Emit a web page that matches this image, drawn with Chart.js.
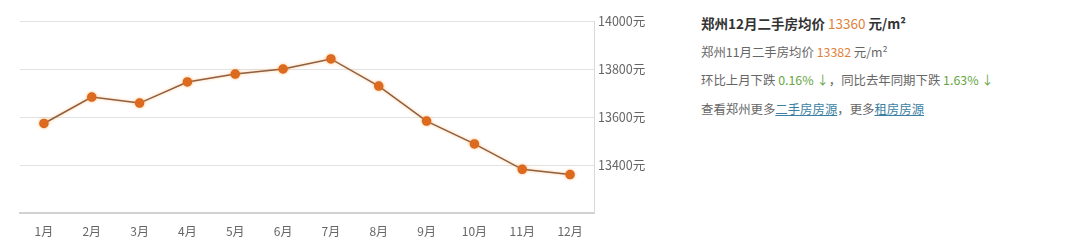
<!DOCTYPE html>
<html>
<head>
<meta charset="utf-8">
<script src="https://cdn.jsdelivr.net/npm/chart.js@4"></script>
<style>
    body { margin: 0; background: #fff; font-family: "Noto Sans CJK SC", sans-serif; }
    #wrap { position: relative; width: 1080px; height: 249px; }
    #chart-box { position: absolute; left: 0; top: 0; width: 660px; height: 249px; }
    #info { position: absolute; left: 701px; top: 12px; font-size: 12.4px; color: #666; }
    #info div { height: 28.7px; line-height: 22px; white-space: nowrap; }
    #info .title { font-size: 13.5px; font-weight: bold; color: #333; }
    .price { color: #e0813a; font-weight: normal; }
    .down { color: #66a53f; }
    a { color: #3b7fa3; text-decoration: underline; }
</style>
</head>
<body>
<div id="wrap">
    <div id="chart-box"><canvas id="price-chart"></canvas></div>
    <div id="info">
        <div class="title">郑州12月二手房均价 <span class="price">13360</span> 元/m²</div>
        <div>郑州11月二手房均价 <span class="price">13382</span> 元/m²</div>
        <div>环比上月下跌 <span class="down">0.16% ↓</span>，同比去年同期下跌 <span class="down">1.63% ↓</span></div>
        <div>查看郑州更多<a>二手房房源</a>，更多<a>租房房源</a></div>
    </div>
</div>
<script>
const months = ['1月', '2月', '3月', '4月', '5月', '6月', '7月', '8月', '9月', '10月', '11月', '12月'];
const avgPrices = [13573, 13683, 13658, 13746, 13779, 13800, 13842, 13729, 13583, 13488, 13382, 13360];
const yTicks = [13200, 13400, 13600, 13800, 14000];

// orange glow around the line
const glowPlugin = {
    id: 'glow',
    beforeDatasetsDraw(chart) {
        chart.ctx.save();
        chart.ctx.shadowColor = 'rgba(255, 150, 40, 0.55)';
        chart.ctx.shadowBlur = 3;
    },
    afterDatasetsDraw(chart) {
        chart.ctx.restore();
    }
};

const ctx = document.getElementById('price-chart').getContext('2d');
new Chart(ctx, {
    type: 'line',
    data: {
        labels: months,
        datasets: [{
            data: avgPrices,
            borderColor: '#8f5f42',
            borderWidth: 1.5,
            pointBackgroundColor: '#d9661f',
            pointBorderColor: '#d9661f',
            pointRadius: 4,
            tension: 0
        }]
    },
    options: {
        responsive: true,
        maintainAspectRatio: false,
        animation: false,
        layout: { padding: { left: 20, top: 21, right: 0, bottom: 0 } },
        plugins: {
            legend: { display: false },
            tooltip: { enabled: false }
        },
        scales: {
            x: {
                offset: true,
                grid: { display: false },
                border: { color: '#d2d2d2', width: 2 },
                ticks: { color: '#666', font: { size: 12, family: 'Noto Sans CJK SC' }, padding: 3 },
                afterFit(scale) { scale.height = 36; }
            },
            y: {
                position: 'right',
                min: 13200,
                max: 14000,
                afterBuildTicks(scale) { scale.ticks = yTicks.map(v => ({ value: v })); },
                grid: { color: '#e2e2e2', drawTicks: false },
                border: { color: '#d8d8d8', width: 1 },
                ticks: {
                    color: '#666',
                    padding: 4,
                    font: { size: 12.5, family: 'Noto Sans CJK SC' },
                    callback: v => v === 13200 ? null : v + '元'
                },
                afterFit(scale) { scale.width = 66; }
            }
        }
    },
    plugins: [glowPlugin]
});
</script>
</body>
</html>
